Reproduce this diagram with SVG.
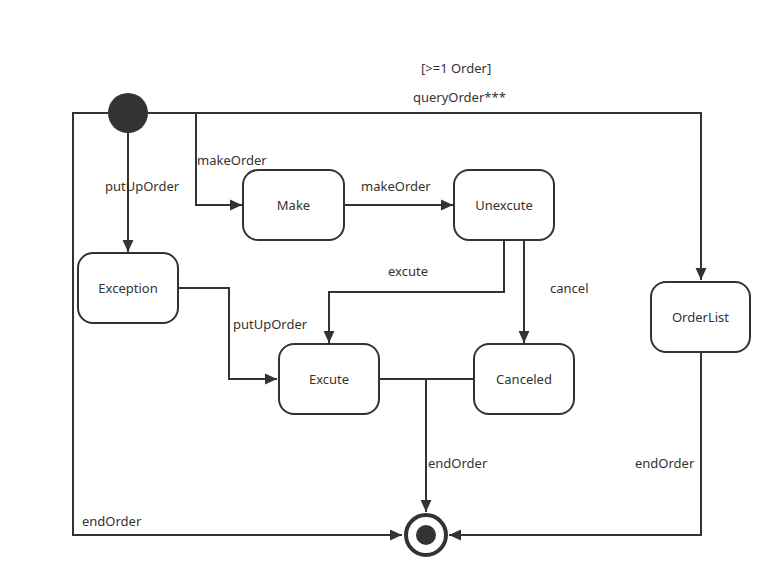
<svg xmlns="http://www.w3.org/2000/svg" width="783" height="587" viewBox="0 0 783 587">
<defs>
<marker id="arr" markerUnits="userSpaceOnUse" markerWidth="12" markerHeight="12" refX="11" refY="5" orient="auto" viewBox="0 0 11 10">
<path d="M0,0 L11,5 L0,10 z" fill="#333"/>
</marker>
<style>
.st rect{fill:#fff;stroke:#333;stroke-width:2}
text{font-family:"Noto Sans","Liberation Sans",sans-serif;font-size:13px;fill:#333}
.c{text-anchor:middle}
#edges path{fill:none;stroke:#333;stroke-width:2}
</style>
</defs>
<rect width="783" height="587" fill="#fff"/>
<g id="edges">
<path d="M148,113 H701 V280" marker-end="url(#arr)"/>
<path d="M108,113 H73 V535 H402" marker-end="url(#arr)"/>
<path d="M196,113 V205 H242" marker-end="url(#arr)"/>
<path d="M128,133 V252" marker-end="url(#arr)"/>
<path d="M344,205 H453" marker-end="url(#arr)"/>
<path d="M504,240 V292 H329 V343" marker-end="url(#arr)"/>
<path d="M524,240 V343" marker-end="url(#arr)"/>
<path d="M178,288 H229 V379 H277" marker-end="url(#arr)"/>
<path d="M379,379 H473"/>
<path d="M426,379 V512" marker-end="url(#arr)"/>
<path d="M701,352 V535 H449" marker-end="url(#arr)"/>
<text x="197" y="164.5">makeOrder</text>
<text x="105" y="191">putUpOrder</text>
<text x="361" y="191">makeOrder</text>
<text x="421" y="73">[&gt;=1 Order]</text>
<text x="413" y="102">queryOrder***</text>
<text x="388" y="276">excute</text>
<text x="550" y="293">cancel</text>
<text x="233" y="329">putUpOrder</text>
<text x="82" y="526">endOrder</text>
<text x="428" y="467.5">endOrder</text>
<text x="635" y="467.5">endOrder</text>
</g>
<g id="start"><circle cx="128" cy="113" r="20" fill="#333"/></g>
<g id="end"><circle cx="426" cy="535" r="20" fill="#fff" stroke="#333" stroke-width="4"/><circle cx="426" cy="535" r="10" fill="#333"/></g>
<g id="make" class="st"><rect x="243" y="170" width="101" height="70" rx="15"/><text class="c" x="293.5" y="209.5">Make</text></g>
<g id="unexcute" class="st"><rect x="454" y="170" width="100" height="70" rx="15"/><text class="c" x="504" y="209.5">Unexcute</text></g>
<g id="exception" class="st"><rect x="78" y="253" width="100" height="70" rx="15"/><text class="c" x="128" y="292.5">Exception</text></g>
<g id="excute" class="st"><rect x="279" y="344" width="100" height="70" rx="15"/><text class="c" x="329" y="383.5">Excute</text></g>
<g id="canceled" class="st"><rect x="474" y="344" width="100" height="70" rx="15"/><text class="c" x="524" y="383.5">Canceled</text></g>
<g id="orderlist" class="st"><rect x="651" y="282" width="99" height="70" rx="15"/><text class="c" x="700.5" y="321.5">OrderList</text></g>
</svg>
